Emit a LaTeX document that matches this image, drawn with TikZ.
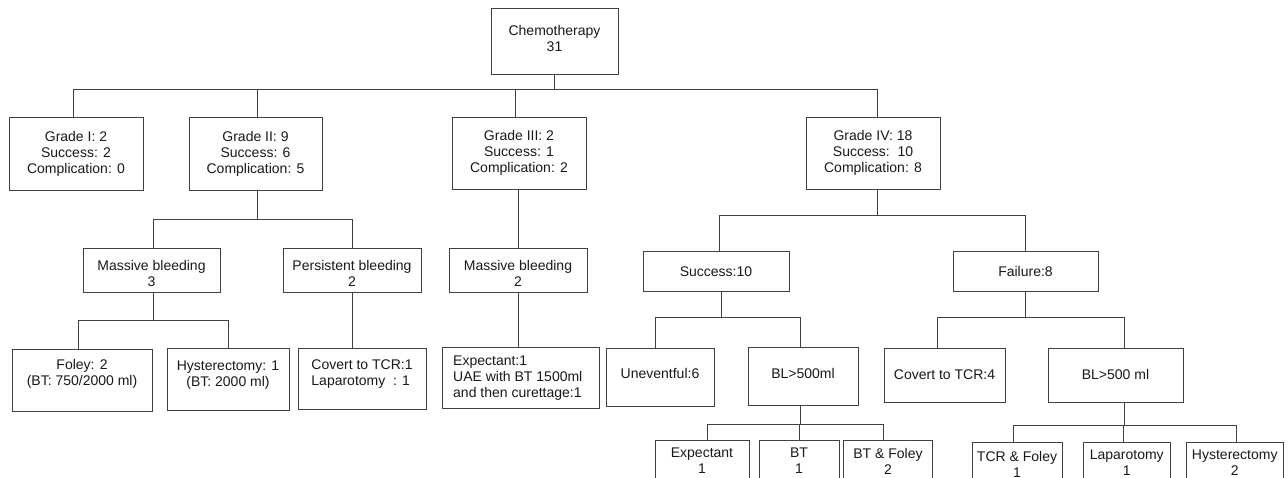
\documentclass[tikz,border=0pt]{standalone}
\usepackage{fontspec}
\setmainfont{Liberation Sans}
\tikzset{
  boxst/.style={draw=black!75, line width=1pt, rectangle, inner sep=0pt, fill=white},
  txt/.style={align=center, inner sep=0pt, font=\fontsize{14}{16}\selectfont, text=black!90},
  conn/.style={draw=black!75, line width=1pt},
}
\newcommand\tbox[7]{%
  \node[boxst, minimum width={#4-#2}, minimum height={#5-#3}] (#1) at ({(#2+#4)/2},{(#3+#5)/2}) {};
  \node[txt] (#1t) at ({(#2+#4)/2},#6) {#7};}
\begin{document}
\begin{tikzpicture}[x=1pt,y=-1pt]
\useasboundingbox (0,0) rectangle (1288,478);
\fill[white] (0,0) rectangle (1288,478);
\clip (0,0) rectangle (1288,478);
% level 0
\tbox{chemo}{491}{9}{618}{75}{38}{Chemotherapy\\31}
% level 1
\tbox{g1}{9}{118}{143}{191}{154}{Grade I: 2\\Success: 2\\Complication: 0}
\tbox{g2}{189}{118}{322}{191}{154}{Grade II: 9\\Success: 6\\Complication: 5}
\tbox{g3}{452}{118}{586}{190}{153}{Grade III: 2\\Success: 1\\Complication: 2}
\tbox{g4}{806}{118}{940}{190}{153}{Grade IV: 18\\Success:\ \ 10\\Complication: 8}
% level 2
\tbox{mb3}{83}{249}{220}{293}{273}{Massive bleeding\\3}
\tbox{pb}{283}{249}{421}{293}{273}{Persistent bleeding\\2}
\tbox{mb2}{449}{249}{587}{293}{273}{Massive bleeding\\2}
\tbox{succ}{643}{252}{789}{292}{272}{Success:10}
\tbox{fail}{953}{252}{1098}{292}{271}{Failure:8}
% level 3
\tbox{foley}{12}{350}{152}{411}{374}{Foley: 2\\(BT: 750/2000 ml)}
\tbox{hyst1}{167}{349}{289}{410}{375}{Hysterectomy: 1\\(BT: 2000 ml)}
\node[boxst, minimum width=128, minimum height=60] (cov1) at (362,379) {};
\node[txt, align=left] (cov1t) at (362,374) {Covert to TCR:1\\Laparotomy\ \ : 1};
\node[boxst, minimum width=157, minimum height=60] (exp3) at (520.5,378) {};
\node[txt, align=left, anchor=west] (exp3t) at (453,378) {Expectant:1\\UAE with BT 1500ml\\and then curettage:1};
\tbox{unev}{606}{349}{714}{406}{373}{Uneventful:6}
\tbox{bl1}{748}{348}{858}{405}{373}{BL>500ml}
\tbox{cov4}{884}{349}{1005}{402}{375}{Covert to TCR:4}
\tbox{bl2}{1048}{349}{1183}{402}{374}{BL>500 ml}
% level 4
\tbox{e1}{655}{440}{749}{500}{461}{Expectant\\1}
\tbox{bt1}{759}{440}{839}{500}{461}{BT\\1}
\tbox{btf}{843.5}{440}{932.5}{500}{461}{BT \& Foley\\2}
\tbox{tcf}{972}{442}{1062}{500}{464}{TCR \& Foley\\1}
\tbox{lap}{1083.5}{442}{1170}{500}{462.5}{Laparotomy\\1}
\tbox{hys2}{1186.5}{442}{1283}{500}{462.5}{Hysterectomy\\2}
% bus coordinates
\coordinate (y0) at (0,90);
\coordinate (y2) at (0,220);
\coordinate (y4) at (0,216);
\coordinate (y3) at (0,321);
\coordinate (y5) at (0,318);
\coordinate (y6) at (0,424);
\coordinate (y7) at (0,425);
% connectors
\draw[conn] (chemo.south) -- (chemo.south |- y0);
\draw[conn] ([xshift=-3pt]g1.north) -- ([xshift=-3pt]g1.north |- y0) -- ([xshift=4pt]g4.north |- y0) -- ([xshift=4pt]g4.north);
\draw[conn] ([xshift=2pt]g2.north) -- ([xshift=2pt]g2.north |- y0);
\draw[conn] ([xshift=-4pt]g3.north) -- ([xshift=-4pt]g3.north |- y0);
% grade II
\draw[conn] ([xshift=2pt]g2.south) -- ([xshift=2pt]g2.south |- y2);
\draw[conn] ([xshift=2pt]mb3.north) -- ([xshift=2pt]mb3.north |- y2) -- (pb.north |- y2) -- (pb.north);
\draw[conn] ([xshift=2pt]mb3.south) -- ([xshift=2pt]mb3.south |- y3);
\draw[conn] ([xshift=-4pt]foley.north) -- ([xshift=-4pt]foley.north |- y3) -- (hyst1.north |- y3) -- (hyst1.north);
\draw[conn] (pb.south) -- (pb.south |- cov1.north);
% grade III
\draw[conn] (mb2.north) -- (mb2.north |- g3.south);
\draw[conn] (mb2.south) -- (mb2.south |- exp3.north);
% grade IV
\draw[conn] ([xshift=4pt]g4.south) -- ([xshift=4pt]g4.south |- y4);
\draw[conn] ([xshift=3pt]succ.north) -- ([xshift=3pt]succ.north |- y4) -- (fail.north |- y4) -- (fail.north);
\draw[conn] ([xshift=5pt]succ.south) -- ([xshift=5pt]succ.south |- y5);
\draw[conn] ([xshift=-5pt]unev.north) -- ([xshift=-5pt]unev.north |- y5) -- ([xshift=-3pt]bl1.north |- y5) -- ([xshift=-3pt]bl1.north);
\draw[conn] (fail.south) -- (fail.south |- y5);
\draw[conn] ([xshift=-7pt]cov4.north) -- ([xshift=-7pt]cov4.north |- y5) -- ([xshift=9pt]bl2.north |- y5) -- ([xshift=9pt]bl2.north);
\draw[conn] ([xshift=-3pt]bl1.south) -- ([xshift=-3pt]bl1.south |- y6);
\draw[conn] ([xshift=5pt]e1.north) -- ([xshift=5pt]e1.north |- y6) -- ([xshift=-5pt]btf.north |- y6) -- ([xshift=-5pt]btf.north);
\draw[conn] (bt1.north) -- (bt1.north |- y6);
\draw[conn] ([xshift=9pt]bl2.south) -- ([xshift=9pt]bl2.south |- y7);
\draw[conn] ([xshift=-4pt]tcf.north) -- ([xshift=-4pt]tcf.north |- y7) -- ([xshift=2pt]hys2.north |- y7) -- ([xshift=2pt]hys2.north);
\draw[conn] ([xshift=-3pt]lap.north) -- ([xshift=-3pt]lap.north |- y7);
\end{tikzpicture}
\end{document}
